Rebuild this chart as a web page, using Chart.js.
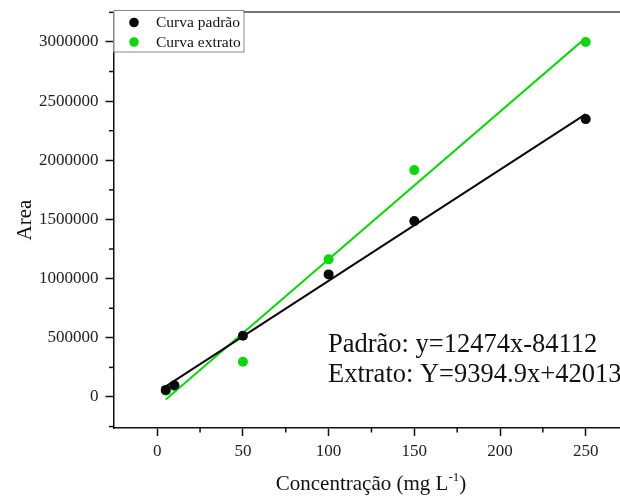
<!DOCTYPE html>
<html>
<head>
<meta charset="utf-8">
<script src="https://cdn.jsdelivr.net/npm/chart.js@4/dist/chart.umd.min.js"></script>
<style>
  body { margin: 0; background: #fff; overflow: hidden; }
  canvas { display: block; }
</style>
</head>
<body>
<canvas id="curve" width="620" height="497"></canvas>
<script>
/* -----------------------
data
-------------------------- */
const conc = [5, 10, 50, 100, 150, 250];
const areaPadrao = [60000, 99000, 518000, 1036000, 1486000, 2348000];
const areaExtrato = [53000, 93000, 298000, 1163000, 1917000, 3000000];

// [slope, intercept] of the fitted lines
const fitPadrao = [9394.9, 42013];
const fitExtrato = [12474, -84112];
const fitRange = [5, 250];

const xTicks = [0, 50, 100, 150, 200, 250];
const yTicks = [0, 500000, 1000000, 1500000, 2000000, 2500000, 3000000];

const seriesNames = ['Curva padrão', 'Curva extrato'];
const eqLabels = ['Padrão: y=12474x-84112', 'Extrato: Y=9394.9x+42013'];

const BLACK = '#0a0a0a';
const GREEN = '#10d410';
const SERIF = "'Liberation Serif', 'Times New Roman', serif";

function points(xs, ys) {
  return xs.map((x, i) => ({ x: x, y: ys[i] }));
}

function fitLine(fit) {
  return fitRange.map(x => ({ x: x, y: fit[0] * x + fit[1] }));
}

/* -----------------------
minor ticks, frame, legend, titles
-------------------------- */
const decorations = {
  id: 'decorations',
  afterDraw(chart) {
    const ctx = chart.ctx;
    const area = chart.chartArea;
    const xs = chart.scales.x;
    const ys = chart.scales.y;

    ctx.save();
    ctx.strokeStyle = '#111';
    ctx.lineWidth = 1.5;

    // minor ticks
    for (let v = 25; v < xs.max; v += 50) {
      const px = xs.getPixelForValue(v);
      ctx.beginPath();
      ctx.moveTo(px, area.bottom);
      ctx.lineTo(px, area.bottom + 4.5);
      ctx.stroke();
    }
    for (let v = -250000; v < ys.max; v += 500000) {
      if (v < ys.min) continue;
      const py = ys.getPixelForValue(v);
      ctx.beginPath();
      ctx.moveTo(area.left, py);
      ctx.lineTo(area.left - 4.5, py);
      ctx.stroke();
    }

    // top frame line
    ctx.strokeStyle = '#444';
    ctx.beginPath();
    ctx.moveTo(area.left, area.top);
    ctx.lineTo(area.right, area.top);
    ctx.stroke();

    // legend box
    ctx.fillStyle = '#fff';
    ctx.fillRect(area.left, 10.5, 130, 41.5);
    ctx.strokeStyle = '#888';
    ctx.lineWidth = 1;
    ctx.strokeRect(area.left + 0.5, 10.5, 130, 41.5);
    const legendColors = [BLACK, GREEN];
    ctx.font = '15.5px ' + SERIF;
    ctx.textBaseline = 'alphabetic';
    seriesNames.forEach((name, i) => {
      const cy = 22.5 + i * 19.5;
      ctx.fillStyle = legendColors[i];
      ctx.beginPath();
      ctx.arc(134, cy, 4.8, 0, Math.PI * 2);
      ctx.fill();
      ctx.fillStyle = '#111';
      ctx.fillText(name, 156, cy + 4.5);
    });

    // fit equations
    ctx.fillStyle = '#111';
    ctx.font = '26.5px ' + SERIF;
    eqLabels.forEach((t, i) => ctx.fillText(t, 328, 352 + i * 30));

    // x title with superscript
    const main = 'Concentração (mg L';
    const sup = '-1';
    const tail = ')';
    ctx.font = '21px ' + SERIF;
    const wMain = ctx.measureText(main).width;
    const wTail = ctx.measureText(tail).width;
    ctx.font = '13px ' + SERIF;
    const wSup = ctx.measureText(sup).width;
    const x0 = 371 - (wMain + wSup + wTail) / 2;
    ctx.font = '21px ' + SERIF;
    ctx.fillText(main, x0, 490);
    ctx.font = '13px ' + SERIF;
    ctx.fillText(sup, x0 + wMain, 481);
    ctx.font = '21px ' + SERIF;
    ctx.fillText(tail, x0 + wMain + wSup, 490);

    // y title
    ctx.translate(31, (area.top + area.bottom) / 2);
    ctx.rotate(-Math.PI / 2);
    ctx.textAlign = 'center';
    ctx.fillText('Area', 0, 0);
    ctx.restore();
  }
};

/* -----------------------
chart
-------------------------- */
const tickFont = { family: SERIF, size: 17 };

new Chart(document.getElementById('curve'), {
  type: 'scatter',
  data: {
    datasets: [
      {
        label: seriesNames[0],
        data: points(conc, areaPadrao),
        pointRadius: 5,
        pointBorderWidth: 0,
        backgroundColor: BLACK
      },
      {
        label: seriesNames[1],
        data: points(conc, areaExtrato),
        pointRadius: 5,
        pointBorderWidth: 0,
        backgroundColor: GREEN
      },
      {
        data: fitLine(fitPadrao),
        showLine: true,
        pointRadius: 0,
        borderColor: BLACK,
        borderWidth: 2
      },
      {
        data: fitLine(fitExtrato),
        showLine: true,
        pointRadius: 0,
        borderColor: GREEN,
        borderWidth: 2
      }
    ]
  },
  options: {
    responsive: false,
    animation: false,
    devicePixelRatio: 1,
    layout: { autoPadding: false, padding: { top: 12, right: 0, left: 0, bottom: 0 } },
    plugins: {
      legend: { display: false },
      tooltip: { enabled: false }
    },
    scales: {
      x: {
        type: 'linear',
        min: -25.5,
        max: 270,
        afterBuildTicks: s => { s.ticks = xTicks.map(v => ({ value: v })); },
        afterFit: s => { s.height = 69; s.paddingLeft = 0; s.paddingRight = 0; },
        grid: { drawOnChartArea: false, tickLength: 8, tickColor: '#111', tickWidth: 1.5 },
        border: { color: '#111', width: 1.5 },
        ticks: { font: tickFont, color: '#222', padding: 5, maxRotation: 0 }
      },
      y: {
        type: 'linear',
        min: -262000,
        max: 3253000,
        afterBuildTicks: s => { s.ticks = yTicks.map(v => ({ value: v })); },
        afterFit: s => { s.width = 113.5; s.paddingTop = 0; s.paddingBottom = 0; },
        grid: { drawOnChartArea: false, tickLength: 8, tickColor: '#111', tickWidth: 1.5 },
        border: { color: '#111', width: 1.5 },
        ticks: { font: tickFont, color: '#222', padding: 7, callback: v => String(v) }
      }
    }
  },
  plugins: [decorations]
});
</script>
</body>
</html>
